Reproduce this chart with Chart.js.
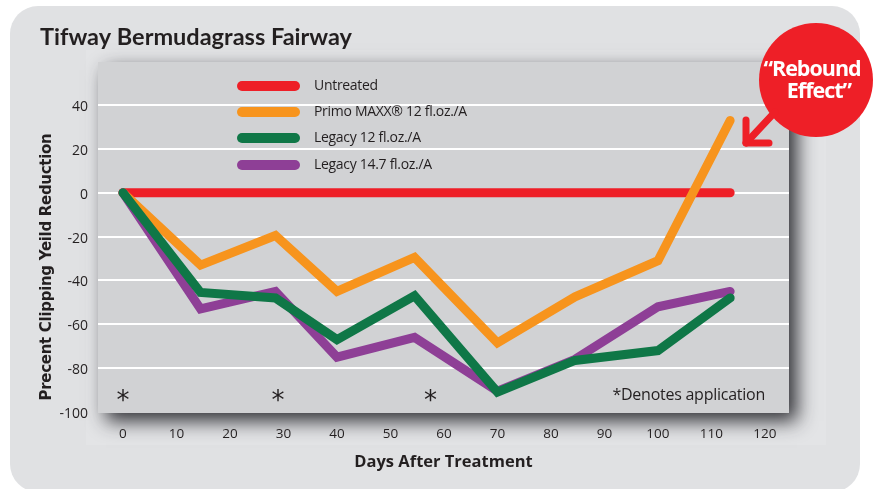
<!DOCTYPE html>
<html><head><meta charset="utf-8">
<style>html,body{margin:0;padding:0;background:#fff}canvas{display:block}</style>
<script src="https://cdn.jsdelivr.net/npm/chart.js@4"></script>
</head><body><canvas id="c" width="873" height="489"></canvas>
<script>
const days=[0,14.5,28.5,40,54.5,70,84.5,100,113.5];
const untreated=[0,0,0,0,0,0,0,0,0];
const primo=[0,-33,-19.5,-45,-29.5,-68.5,-47.5,-31,33];
const legacy12=[0,-45.5,-48,-67,-47,-91,-76.5,-72,-48];
const legacy147=[0,-53,-45,-75,-66,-90.5,-76,-52,-45];
const seriesNames=['Untreated','Primo MAXX® 12 fl.oz./A','Legacy 12 fl.oz./A','Legacy 14.7 fl.oz./A'];
const seriesColors=['#ee1f27','#f7941d','#0f7747','#8e3f96'];
const applicationDays=[0,29,57.5];
const yAxisTitle='Precent Clipping Yeild Reduction';
const pts=a=>a.map((y,i)=>({x:days[i],y}));
const TXT='#231f20', FONT='"Open Sans"';
const deco={id:'deco',
 beforeDraw(ch){const c=ch.ctx,a=ch.chartArea;c.save();
  c.fillStyle='#fff';c.fillRect(0,0,873,489);
  c.fillStyle='#e0e1e3';c.beginPath();c.roundRect(10,6,850,486,28);c.fill();
  c.fillStyle='#e3e4e6';c.fillRect(86,50,740,395);
  c.save();c.shadowColor='rgba(30,30,35,.9)';c.shadowBlur=18;c.shadowOffsetX=8;c.shadowOffsetY=8;
  c.fillStyle='#d1d2d4';c.fillRect(a.left,a.top,a.right-a.left,a.bottom-a.top);c.restore();
  c.fillStyle='#d1d2d4';c.fillRect(a.left,a.top,a.right-a.left,a.bottom-a.top);
  c.restore();},
 afterDatasetsDraw(ch){const c=ch.ctx,xs=ch.scales.x,ys=ch.scales.y;c.save();
  // y axis title
  c.save();c.translate(47,267);c.rotate(-Math.PI/2);c.fillStyle=TXT;c.font='bold 15px "DejaVu Sans"';c.textAlign='center';c.textBaseline='middle';
  c.letterSpacing='-0.3px';c.fillText(yAxisTitle,0,0);c.restore();
  // legend
  const ly=[86,112,138,165];
  seriesNames.forEach((n,i)=>{c.fillStyle=seriesColors[i];c.beginPath();c.roundRect(237,ly[i]-5,63,10,5);c.fill();
    c.fillStyle=TXT;c.font='14px '+FONT;c.textAlign='left';c.textBaseline='middle';c.letterSpacing='-0.3px';c.fillText(n,314,ly[i]+0.5);});
  c.letterSpacing='0px';
  // application markers
  c.fillStyle=TXT;c.font='26px "DejaVu Sans"';c.textAlign='center';c.textBaseline='middle';
  applicationDays.forEach(d=>c.fillText('*',xs.getPixelForValue(d),ys.getPixelForValue(-95.5)));
  c.font='16px '+FONT;c.textAlign='right';c.letterSpacing='-0.25px';c.fillText('*Denotes application',765,395);c.letterSpacing='0px';
  // callout
  c.fillStyle='#ee1f27';c.beginPath();c.arc(816,80,57,0,Math.PI*2);c.fill();
  c.strokeStyle='#ee1f27';c.lineWidth=7;c.lineCap='round';c.lineJoin='round';
  c.beginPath();c.moveTo(775,112);c.lineTo(746,143);c.stroke();
  c.beginPath();c.moveTo(746,120);c.lineTo(746,143);c.lineTo(769,143);c.stroke();
  c.fillStyle='#fff';c.font='bold 21.5px '+FONT;c.textAlign='center';c.letterSpacing='-1px';
  c.fillText('“Rebound',812,70);c.fillText('Effect”',819,92);
  c.restore();}
};
new Chart(document.getElementById('c'),{type:'line',
 data:{datasets:[
  {label:seriesNames[0],data:pts(untreated),borderColor:seriesColors[0],order:4},
  {label:seriesNames[1],data:pts(primo),borderColor:seriesColors[1],order:3},
  {label:seriesNames[2],data:pts(legacy12),borderColor:seriesColors[2],order:1},
  {label:seriesNames[3],data:pts(legacy147),borderColor:seriesColors[3],order:2}
 ]},
 options:{responsive:false,animation:false,
  layout:{padding:{left:40,right:84,top:23,bottom:17}},
  elements:{point:{radius:0},line:{borderWidth:9,borderCapStyle:'round',borderJoinStyle:'miter',tension:0}},
  plugins:{legend:{display:false},tooltip:{enabled:false},
   title:{display:true,text:'Tifway Bermudagrass Fairway',align:'start',color:TXT,
    font:{family:'Lato',size:23.5,weight:'bold'},padding:{top:0,bottom:10.8}}},
  scales:{
   x:{type:'linear',min:-4.67,max:124.5,
    afterBuildTicks(s){s.ticks=[0,10,20,30,40,50,60,70,80,90,100,110,120].map(v=>({value:v}));},
    afterFit(s){s.height=59;},
    grid:{display:false},border:{display:false},
    ticks:{color:TXT,font:{family:FONT,size:13.5},padding:5,maxRotation:0,autoSkip:false},
    title:{display:true,text:'Days After Treatment',color:TXT,font:{family:FONT,size:16.5,weight:'bold'},padding:0}},
   y:{min:-100.5,max:59.7,
    afterBuildTicks(s){s.ticks=[-100,-80,-60,-40,-20,0,20,40].map(v=>({value:v}));},
    afterFit(s){s.width=58;},
    grid:{color:c=>c.tick&&c.tick.value===-100?'transparent':'#ffffff',lineWidth:2,drawTicks:false},border:{display:false},
    ticks:{color:TXT,font:{family:FONT,size:14},padding:10,labelOffset:2}}
  }},
 plugins:[deco]});
</script></body></html>
